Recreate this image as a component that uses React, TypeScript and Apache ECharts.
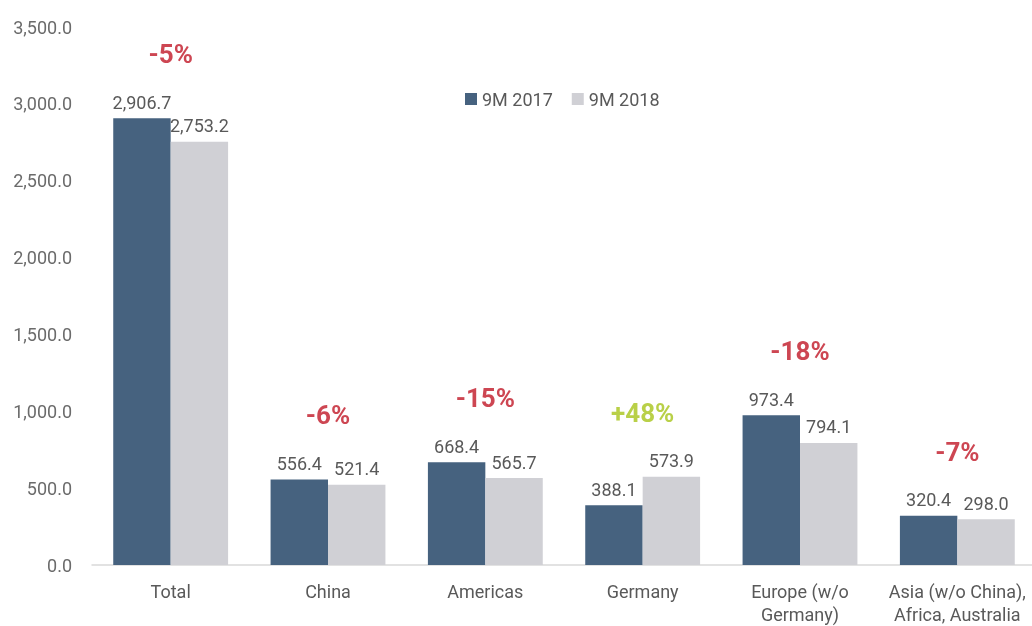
import React, { useEffect, useRef } from "react";
import * as echarts from "echarts";

const categories = ["Total", "China", "Americas", "Germany", "Europe (w/o\nGermany)", "Asia (w/o China),\nAfrica, Australia"];
const series2017 = [2906.7, 556.4, 668.4, 388.1, 973.4, 320.4];
const series2018 = [2753.2, 521.4, 565.7, 573.9, 794.1, 298.0];
const changeLabels = ["-5%", "-6%", "-15%", "+48%", "-18%", "-7%"];
const yTicks = { min: 0, max: 3500, interval: 500 };

const fmt = (v: number) =>
  v.toLocaleString("en-US", { minimumFractionDigits: 1, maximumFractionDigits: 1 });

export default function App() {
  const ref = useRef<HTMLDivElement>(null);
  useEffect(() => {
    if (!ref.current) return;
    const chart = echarts.init(ref.current, undefined, { renderer: "svg" });
    const font = "Roboto, 'DejaVu Sans Condensed', sans-serif";
    const valueLabel = {
      show: true,
      position: "top",
      distance: 7,
      fontFamily: font,
      fontSize: 18,
      color: "#595959",
      formatter: (p: any) => fmt(p.value),
    };
    chart.setOption({
      animation: false,
      textStyle: { fontFamily: font },
      legend: {
        top: 85,
        left: 460,
        itemWidth: 12,
        itemHeight: 12,
        itemGap: 19,
        icon: "rect",
        textStyle: { fontSize: 18, color: "#595959", fontFamily: font },
        data: ["9M 2017", "9M 2018"],
      },
      grid: {
        left: 92,
        top: 27,
        width: 944,
        height: 538,
        containLabel: false,
        outerBoundsMode: "none",
      },
      xAxis: {
        type: "category",
        data: categories,
        axisLine: { lineStyle: { color: "#d9d9d9", width: 1.5 } },
        axisTick: { show: false },
        axisLabel: {
          interval: 0,
          fontSize: 18,
          color: "#595959",
          margin: 15,
          lineHeight: 23,
          fontFamily: font,
        },
      },
      yAxis: {
        type: "value",
        min: yTicks.min,
        max: yTicks.max,
        interval: yTicks.interval,
        splitLine: { show: false },
        axisLine: { show: false },
        axisTick: { show: false },
        axisLabel: {
          fontSize: 18,
          color: "#6b6b6b",
          margin: 20,
          fontFamily: font,
          formatter: (v: number) => fmt(v),
        },
      },
      series: [
        {
          name: "9M 2017",
          type: "bar",
          data: series2017,
          barGap: "0%",
          barCategoryGap: "27%",
          itemStyle: { color: "#46627f" },
          label: valueLabel,
        },
        {
          name: "9M 2018",
          type: "bar",
          data: series2018,
          itemStyle: { color: "#d0d0d5" },
          label: valueLabel,
        },
        {
          name: "change",
          type: "scatter",
          data: series2017.map((v, i) => ({
            value: Math.max(v, series2018[i]),
            label: { color: changeLabels[i].startsWith("+") ? "#a8c41a" : "#c01827" },
          })),
          symbolSize: 0,
          silent: true,
          label: {
            show: true,
            position: "inside",
            offset: [0, -64],
            fontSize: 26,
            fontWeight: "bold",
            fontFamily: font,
            formatter: (p: any) => changeLabels[p.dataIndex],
          },
        },
      ],
    });
    return () => chart.dispose();
  }, []);
  return (
    <div
      ref={ref}
      style={{ position: "fixed", left: 0, top: 0, width: 1032, height: 626 }}
    />
  );
}
